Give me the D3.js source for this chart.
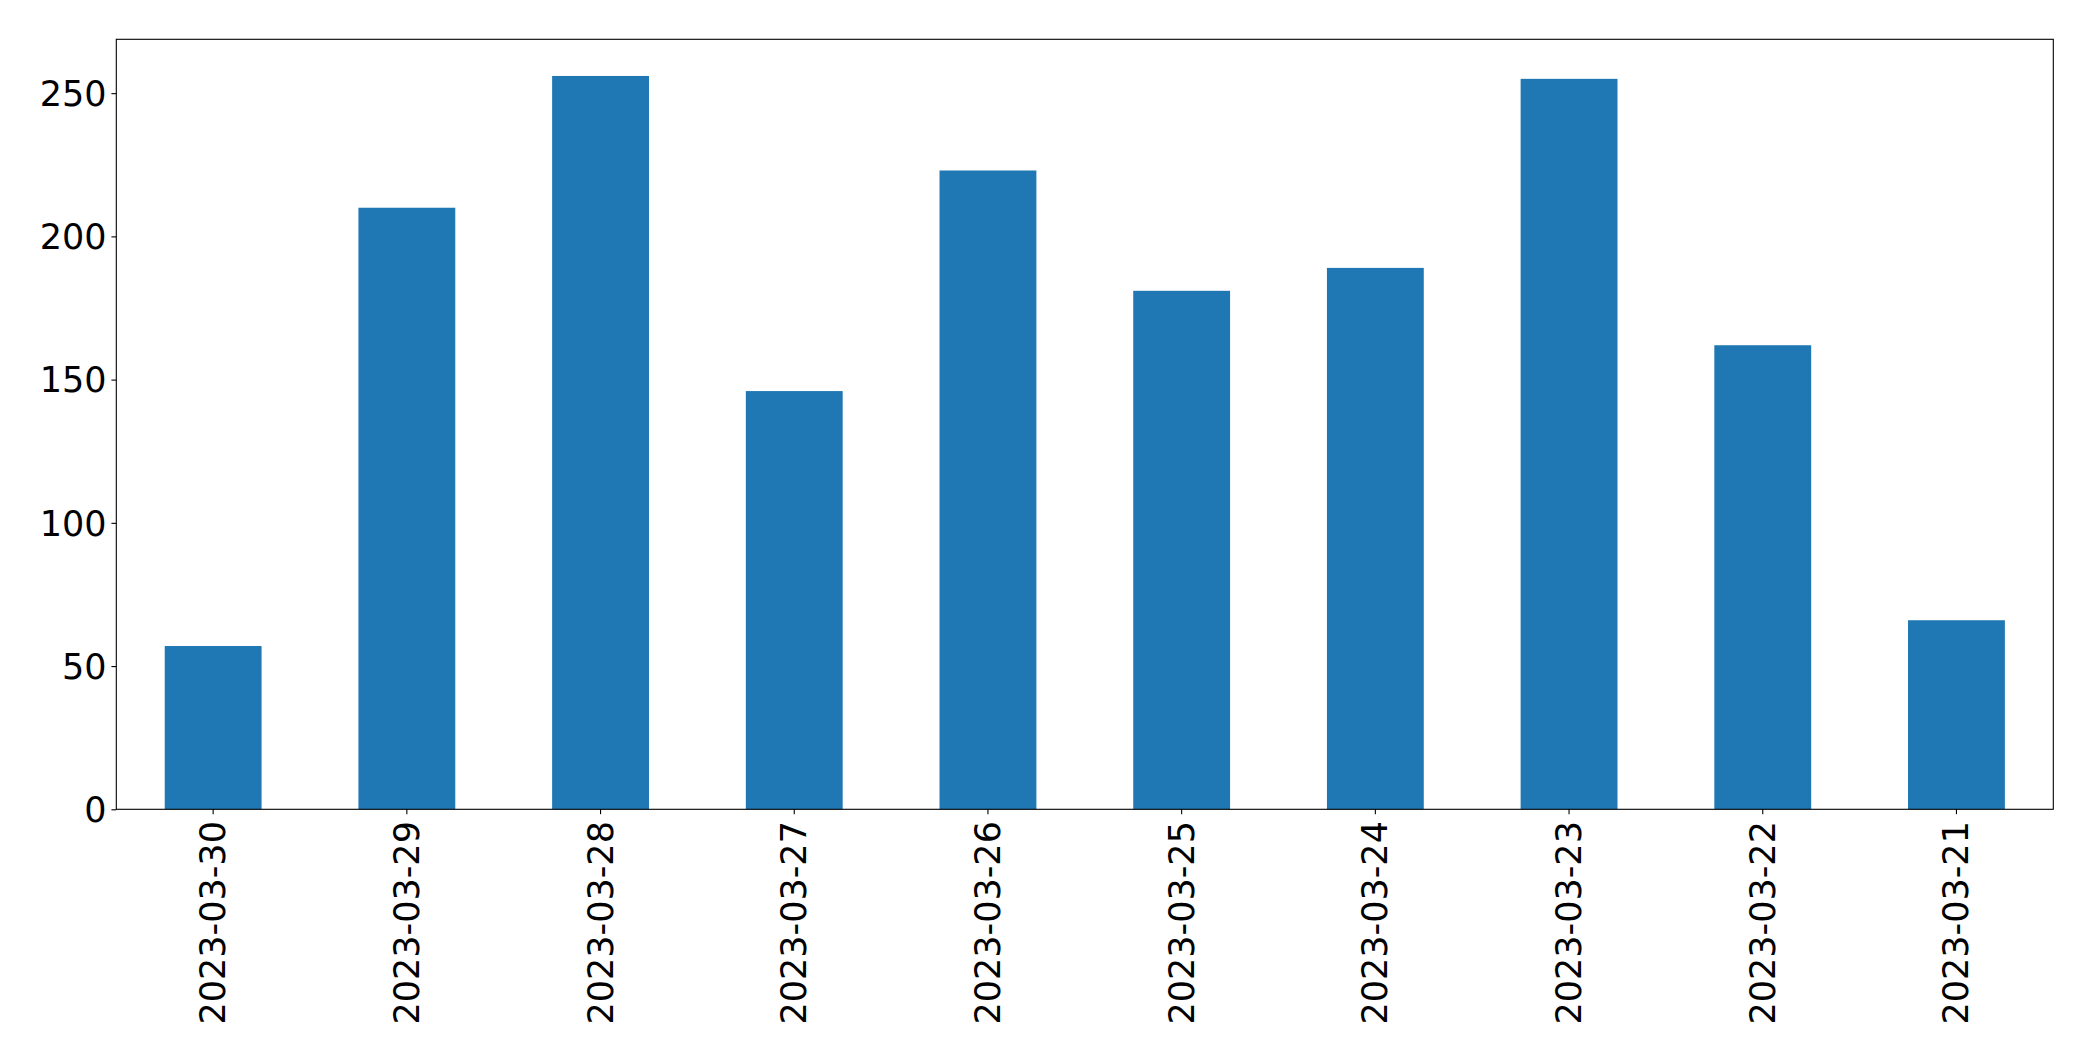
<!DOCTYPE html>
<html>
<head>
<meta charset="utf-8">
<script src="https://cdn.jsdelivr.net/npm/d3@7"></script>
<style>
  body { margin: 0; background: #fff; }
  svg text { font-family: "DejaVu Sans", sans-serif; fill: #000; }
</style>
</head>
<body>
<div id="chart"></div>
<script>
// data
let dates = ["2023-03-30", "2023-03-29", "2023-03-28", "2023-03-27", "2023-03-26",
             "2023-03-25", "2023-03-24", "2023-03-23", "2023-03-22", "2023-03-21"];
let counts = [57, 210, 256, 146, 223, 181, 189, 255, 162, 66];
let yTicks = [0, 50, 100, 150, 200, 250];

let W = 2093, H = 1061;
let margin = {top: 39.3, right: W - 2053.3, bottom: H - 809.3, left: 116.3};
let w = W - margin.left - margin.right;
let h = H - margin.top - margin.bottom;
let fontSize = 35;
let tickLen = 4.9, pad = 4.9;

let svg = d3.select("#chart").append("svg")
    .attr("width", W)
    .attr("height", H);

let g = svg.append("g")
    .attr("transform", "translate(" + margin.left + "," + margin.top + ")");

// band: bars are half a step wide, centred in each step (like pandas bar)
let x = d3.scaleBand().domain(dates).range([0, w]).paddingInner(0.5).paddingOuter(0.25);
let y = d3.scaleLinear().domain([0, d3.max(counts) * 1.05]).range([h, 0]);

g.selectAll(".bar")
    .data(counts)
    .enter()
    .append("rect")
    .attr("class", "bar")
    .attr("x", (d, i) => x(dates[i]))
    .attr("y", d => y(d))
    .attr("width", x.bandwidth())
    .attr("height", d => h - y(d))
    .attr("fill", "#1f77b4");

// y axis
let yAxis = g.append("g")
    .call(d3.axisLeft(y).tickValues(yTicks).tickSize(tickLen).tickSizeOuter(0).tickPadding(pad));
yAxis.select(".domain").remove();
yAxis.selectAll(".tick line").attr("stroke", "#000").attr("stroke-width", 1.1);
yAxis.selectAll(".tick text")
    .style("font-size", fontSize + "px")
    .attr("dy", "0.35em");

// x axis, labels turned 90 degrees
let xAxis = g.append("g")
    .attr("transform", "translate(0," + h + ")")
    .call(d3.axisBottom(x).tickSize(tickLen).tickSizeOuter(0));
xAxis.select(".domain").remove();
xAxis.selectAll(".tick line").attr("stroke", "#000").attr("stroke-width", 1.1);
xAxis.selectAll(".tick text")
    .style("font-size", fontSize + "px")
    .attr("text-anchor", "end")
    .attr("dy", null)
    .attr("y", 0)
    .attr("dominant-baseline", "central")
    .attr("transform", "translate(0," + (tickLen + pad + 2) + ") rotate(-90)");

// frame
g.append("rect")
    .attr("width", w)
    .attr("height", h)
    .attr("fill", "none")
    .attr("stroke", "#000")
    .attr("stroke-width", 1.1);
</script>
</body>
</html>
